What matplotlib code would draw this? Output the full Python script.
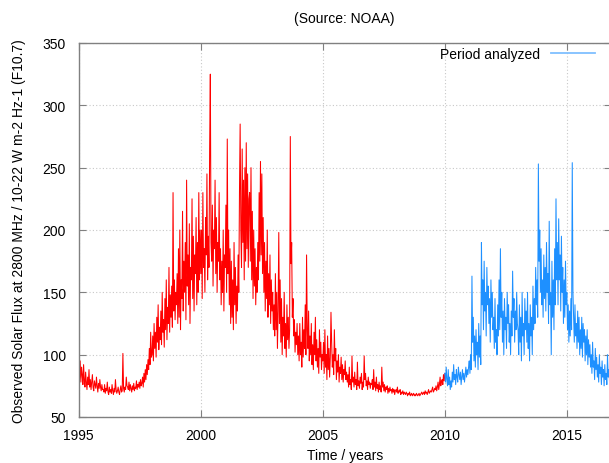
import numpy as np
import matplotlib
matplotlib.use("Agg")
import matplotlib.pyplot as plt

plt.rcParams['font.family'] = ['Liberation Sans', 'DejaVu Sans']

# Observed F10.7 solar flux, ~10-day samples (36 per year)
flux_1995 = [88, 80, 95, 78, 90, 84, 76, 92, 80, 74, 86, 78, 72, 82, 76, 88, 74, 80, 72, 78, 84, 74, 71, 79, 76, 73, 82, 75, 70, 77, 73, 80, 74, 71, 76, 72]
flux_1996 = [72, 70, 76, 69, 73, 71, 78, 70, 68, 74, 70, 72, 69, 76, 71, 68, 73, 70, 80, 72, 69, 71, 74, 70, 68, 72, 75, 70, 71, 101, 73, 70, 74, 72, 82, 75]
flux_1997 = [74, 72, 78, 71, 76, 73, 70, 75, 72, 77, 71, 74, 73, 79, 72, 76, 74, 78, 73, 80, 75, 77, 82, 74, 85, 78, 88, 80, 92, 84, 96, 88, 105, 92, 118, 98]
flux_1998 = [100, 115, 95, 125, 105, 118, 98, 130, 110, 140, 104, 122, 112, 135, 108, 150, 118, 128, 106, 145, 120, 160, 112, 138, 125, 170, 118, 148, 130, 155, 122, 230, 135, 160, 128, 150]
flux_1999 = [140, 165, 125, 185, 130, 200, 120, 160, 145, 215, 135, 175, 150, 190, 128, 240, 155, 180, 140, 205, 125, 170, 160, 225, 145, 195, 135, 180, 165, 210, 140, 190, 150, 230, 160, 200]
flux_2000 = [165, 200, 145, 230, 170, 185, 150, 210, 180, 245, 160, 195, 170, 265, 325, 190, 175, 220, 155, 200, 185, 240, 165, 210, 150, 190, 175, 230, 160, 185, 140, 175, 150, 200, 135, 180]
flux_2001 = [170, 220, 150, 273, 165, 200, 140, 185, 125, 175, 130, 160, 120, 190, 140, 170, 125, 155, 135, 180, 150, 230, 285, 200, 170, 265, 190, 240, 160, 250, 175, 270, 185, 245, 170, 225]
flux_2002 = [230, 175, 250, 160, 215, 145, 200, 155, 185, 140, 170, 150, 190, 160, 230, 175, 255, 180, 245, 165, 210, 150, 190, 135, 175, 145, 200, 130, 165, 140, 180, 125, 160, 135, 150, 120]
flux_2003 = [140, 115, 165, 120, 150, 105, 135, 198, 125, 160, 110, 145, 100, 130, 115, 150, 105, 125, 98, 140, 112, 130, 105, 120, 275, 173, 190, 130, 145, 115, 128, 102, 118, 108, 125, 100]
flux_2004 = [115, 95, 125, 100, 110, 90, 130, 98, 120, 105, 140, 100, 180, 120, 105, 135, 95, 115, 100, 125, 92, 108, 88, 118, 100, 130, 95, 112, 90, 105, 85, 120, 98, 110, 88, 100]
flux_2005 = [95, 110, 85, 120, 90, 100, 80, 115, 88, 105, 82, 98, 134, 110, 90, 100, 84, 120, 95, 105, 80, 95, 86, 100, 78, 90, 85, 98, 80, 92, 78, 88, 84, 95, 80, 86]
flux_2006 = [78, 84, 74, 90, 76, 80, 72, 99, 78, 82, 74, 86, 76, 80, 72, 94, 75, 79, 73, 82, 77, 85, 72, 78, 74, 99, 80, 85, 75, 79, 72, 82, 76, 78, 73, 77]
flux_2007 = [76, 80, 72, 88, 74, 78, 71, 82, 73, 76, 70, 78, 72, 75, 70, 90, 74, 78, 71, 76, 70, 74, 72, 75, 69, 73, 70, 74, 71, 72, 69, 73, 70, 72, 68, 71]
flux_2008 = [72, 70, 74, 69, 71, 70, 72, 68, 70, 69, 71, 68, 70, 69, 68, 70, 69, 67, 69, 68, 70, 67, 68, 69, 67, 68, 69, 67, 68, 67, 69, 68, 67, 68, 69, 67]
flux_2009 = [68, 69, 70, 68, 69, 70, 68, 71, 69, 70, 68, 70, 72, 69, 70, 71, 70, 72, 74, 70, 71, 73, 72, 75, 71, 74, 78, 72, 76, 82, 75, 78, 80, 76, 84, 79]
flux_2010 = [85, 78, 90, 80, 75, 88, 76, 82, 72, 79, 74, 86, 78, 92, 80, 84, 76, 88, 82, 78, 90, 84, 80, 86, 76, 82, 88, 80, 85, 78, 84, 90, 82, 88, 84, 90]
flux_2011 = [95, 85, 100, 88, 163, 110, 130, 95, 115, 90, 120, 100, 110, 88, 125, 98, 115, 92, 190, 140, 160, 120, 175, 135, 150, 115, 170, 140, 155, 125, 145, 110, 160, 130, 150, 120]
flux_2012 = [130, 105, 145, 110, 120, 100, 140, 115, 160, 120, 185, 130, 150, 110, 135, 100, 145, 120, 130, 105, 150, 125, 140, 110, 125, 100, 135, 115, 167, 130, 145, 110, 135, 120, 150, 125]
flux_2013 = [120, 100, 140, 110, 130, 95, 150, 115, 125, 100, 145, 120, 135, 110, 150, 105, 125, 95, 140, 115, 130, 100, 155, 120, 145, 125, 170, 140, 160, 130, 253, 175, 200, 150, 185, 140]
flux_2014 = [160, 130, 180, 145, 170, 135, 190, 150, 165, 125, 207, 140, 150, 100, 175, 130, 160, 120, 185, 140, 225, 160, 190, 140, 209, 160, 180, 135, 195, 150, 170, 125, 160, 130, 175, 140]
flux_2015 = [150, 120, 140, 110, 135, 115, 145, 120, 254, 150, 130, 110, 140, 115, 125, 105, 135, 110, 130, 100, 120, 105, 130, 98, 125, 110, 120, 95, 115, 100, 120, 92, 112, 98, 108, 90]
flux_2016 = [100, 85, 110, 90, 95, 80, 105, 88, 98, 82, 92, 78, 100, 85, 90, 76, 95, 82, 88, 75, 92, 80, 85, 76, 100, 82, 88, 78, 84, 75, 80, 74, 86, 78, 82, 76]

years_before = [1995, 1996, 1997, 1998, 1999, 2000, 2001, 2002, 2003, 2004, 2005, 2006, 2007, 2008, 2009]
flux_before = [flux_1995, flux_1996, flux_1997, flux_1998, flux_1999, flux_2000, flux_2001,
               flux_2002, flux_2003, flux_2004, flux_2005, flux_2006, flux_2007, flux_2008, flux_2009]
years_analyzed = [2010, 2011, 2012, 2013, 2014, 2015, 2016]
flux_analyzed = [flux_2010, flux_2011, flux_2012, flux_2013, flux_2014, flux_2015, flux_2016]

x_ticks = [1995, 2000, 2005, 2010, 2015]
y_ticks = [50, 100, 150, 200, 250, 300, 350]

title_text = "(Source: NOAA)"
x_label = "Time / years"
y_label = "Observed Solar Flux at 2800 MHz / 10-22 W m-2 Hz-1 (F10.7)"
legend_label = "Period analyzed"


def build(years, vals):
    t, v = [], []
    for yr, arr in zip(years, vals):
        n = len(arr)
        t.extend(yr + (np.arange(n) + 0.5) / n)
        v.extend(arr)
    return np.array(t), np.array(v)


t_red, v_red = build(years_before, flux_before)
t_blue, v_blue = build(years_analyzed, flux_analyzed)
# connect the two periods
t_red = np.append(t_red, t_blue[0])
v_red = np.append(v_red, v_blue[0])

W, H = 609, 464
fig = plt.figure(figsize=(W / 100, H / 100), dpi=100)
left_px, right_px, top_px, bottom_px = 78.5, 611, 44, 418
ax = fig.add_axes([left_px / W, 1 - bottom_px / H, (right_px - left_px) / W, (bottom_px - top_px) / H])

ax.plot(t_red, v_red, color='#ff0000', lw=0.75)
ax.plot(t_blue, v_blue, color='#1e90ff', lw=0.75, label=legend_label)

ax.set_xlim(1995, 1995 + (right_px - left_px) / 24.4)
ax.set_ylim(50, 350)
ax.set_xticks(x_ticks)
ax.set_yticks(y_ticks)
ax.tick_params(direction='in', length=5, width=0.8, color='#808080',
               top=True, right=True, labelsize=10)
ax.tick_params(axis='y', pad=9)
ax.tick_params(axis='x', pad=8)
for s in ax.spines.values():
    s.set_color('#808080')
    s.set_linewidth(1.0)
ax.grid(True, color='#c8c8c8', linestyle=(0, (1, 2)), linewidth=0.8)

ax.set_xlabel(x_label, fontsize=10, labelpad=4)
ax.set_ylabel(y_label, fontsize=10, labelpad=12)
fig.text(344 / W, 1 - 19 / H, title_text, ha='center', va='center', fontsize=10)

leg = ax.legend(loc='upper right', bbox_to_anchor=(598 / W, 1 - 45 / H),
                bbox_transform=fig.transFigure,
                frameon=False, markerfirst=False, fontsize=10, handlelength=3.2,
                borderaxespad=0.0, borderpad=0.2, handletextpad=0.8)
for h in leg.get_lines():
    h.set_color('#7fbfff')
    h.set_linewidth(1.3)

fig.savefig("out.png", dpi=100)
